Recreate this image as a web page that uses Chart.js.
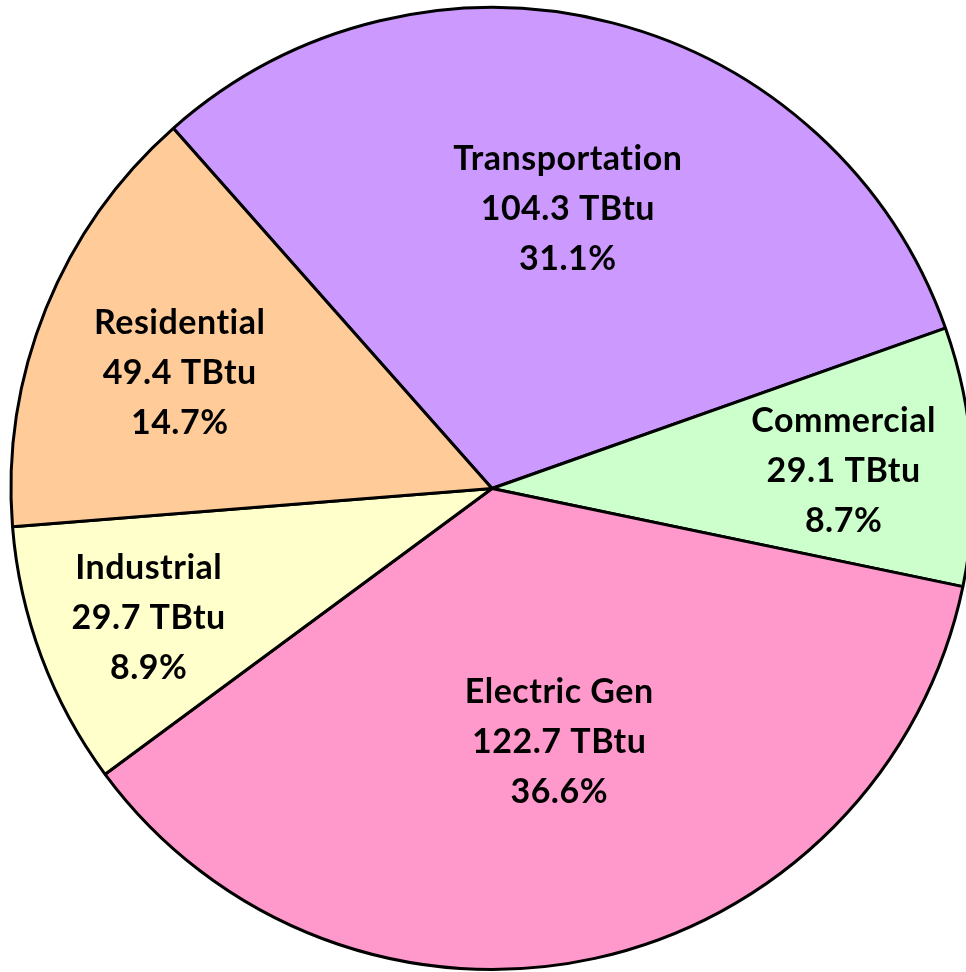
<!DOCTYPE html>
<html>
<head>
<meta charset="utf-8">
<script src="https://cdn.jsdelivr.net/npm/chart.js@4"></script>
<style>
    html, body { margin: 0; padding: 0; background: #fff; overflow: hidden; }
    #wrap { position: absolute; left: 0; top: 0; width: 984px; height: 978px; }
</style>
</head>
<body>
<div id="wrap"><canvas id="pie-canvas"></canvas></div>
<script>
// chart data
const sectors = ['Transportation', 'Commercial', 'Electric Gen', 'Industrial', 'Residential'];
const energyTBtu = [104.3, 29.1, 122.7, 29.7, 49.4];
const sharePct = ['31.1%', '8.7%', '36.6%', '8.9%', '14.7%'];

const sliceColors = ['#CC99FF', '#CCFFCC', '#FF99CC', '#FFFFCC', '#FFCC99'];
// label placement: fraction of radius, and a small turn (deg) off the slice middle
const labelDist = [0.605, 0.732, 0.542, 0.762, 0.693];
const labelTurn = [0.6, 0.8, -2.6, 0, -1.5];

const sliceLabels = {
    id: 'sliceLabels',
    afterDatasetsDraw(chart) {
        const ctx = chart.ctx;
        const meta = chart.getDatasetMeta(0);
        const size = 34;
        ctx.save();
        ctx.fillStyle = '#000';
        ctx.font = 'bold ' + size + 'px Lato';
        ctx.letterSpacing = '0.5px';
        ctx.textAlign = 'center';
        ctx.textBaseline = 'alphabetic';
        meta.data.forEach((arc, i) => {
            const p = arc.getProps(['x', 'y', 'startAngle', 'endAngle', 'outerRadius'], true);
            const mid = (p.startAngle + p.endAngle) / 2 + labelTurn[i] * Math.PI / 180;
            const r = p.outerRadius * labelDist[i];
            const cx = p.x + Math.cos(mid) * r;
            const cy = p.y + Math.sin(mid) * r;
            const lines = [sectors[i], energyTBtu[i].toFixed(1) + ' TBtu', sharePct[i]];
            lines.forEach((t, k) => ctx.fillText(t, cx, cy + (k - 1) * 50 + size * 0.36));
        });
        ctx.restore();
    }
};

new Chart(document.getElementById('pie-canvas'), {
    type: 'pie',
    data: {
        labels: sectors,
        datasets: [{
            data: energyTBtu,
            backgroundColor: sliceColors,
            borderColor: '#000',
            borderWidth: 3
        }]
    },
    options: {
        responsive: true,
        maintainAspectRatio: false,
        animation: false,
        rotation: -41.5,
        layout: { padding: { top: 6, bottom: 7 } },
        plugins: {
            legend: { display: false },
            tooltip: { enabled: false }
        }
    },
    plugins: [sliceLabels]
});
</script>
</body>
</html>
